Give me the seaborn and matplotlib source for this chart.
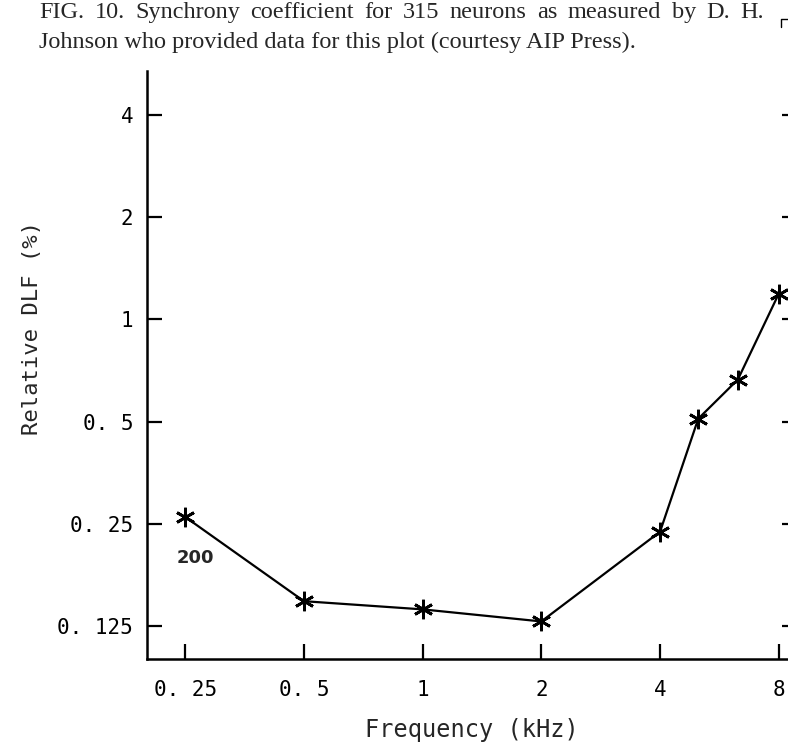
import numpy as np
import pandas as pd
import matplotlib
matplotlib.use("Agg")
import matplotlib.pyplot as plt
import seaborn as sns

# values
freq_khz = [0.25, 0.5, 1, 2, 4, 5, 6.3, 8]
rel_dlf = [0.262, 0.148, 0.140, 0.129, 0.237, 0.51, 0.665, 1.19]

xticks = [0.25, 0.5, 1, 2, 4, 8]
xtick_labels = ["0. 25", "0. 5", "1", "2", "4", "8"]
yticks = [0.125, 0.25, 0.5, 1, 2, 4]
ytick_labels = ["0. 125", "0. 25", "0. 5", "1", "2", "4"]

caption = ["FIG. 10. Synchrony coefficient for 315 neurons as measured by D. H.",
           "Johnson who provided data for this plot (courtesy AIP Press)."]

df = pd.DataFrame({"freq": freq_khz, "dlf": rel_dlf})

sns.set_theme(style="ticks")
plt.rcParams["font.family"] = ["DejaVu Sans Mono", "DejaVu Sans"]

W, H = 788, 747
fig = plt.figure(figsize=(W / 100, H / 100), dpi=100)
ax = fig.add_axes([147 / W, 1 - 659 / H, (797 - 147) / W, (659 - 71) / H])

sns.lineplot(data=df, x="freq", y="dlf", ax=ax, color="black", linewidth=1.6,
             marker=(6, 2, 0), markersize=14, markeredgewidth=2,
             markeredgecolor="black")

ax.set_xscale("log")
ax.set_yscale("log")
ax.set_xlim(0.2, 8.9)
ax.set_ylim(0.1, 5.39)
ax.minorticks_off()
ax.set_xticks(xticks)
ax.set_xticklabels(xtick_labels)
ax.set_yticks(yticks)
ax.set_yticklabels(ytick_labels)

ax.tick_params(axis="both", direction="in", length=11, width=1.6,
               labelsize=15, colors="black")
ax.tick_params(axis="y", right=True, pad=10)
ax.tick_params(axis="x", pad=15)
for s in ["left", "bottom", "right"]:
    ax.spines[s].set_linewidth(1.8)
    ax.spines[s].set_color("black")
ax.spines["top"].set_visible(False)

ax.set_xlabel("Frequency (kHz)", fontsize=17, labelpad=13)
ax.set_ylabel("Relative DLF (%)", fontsize=16, labelpad=11, y=0.563)

ax.text(0.265, 0.199, "200", fontsize=13, ha="center", va="center",
        fontweight="bold", family=["DejaVu Sans"])

# caption, first line justified like the printed page
renderer = fig.canvas.get_renderer()
x0, x1 = 39, 764
for i, line in enumerate(caption):
    y = 1 - (18 + 30 * i) / H
    if i == len(caption) - 1:
        fig.text(x0 / W, y, line, fontsize=17.5, family=["Liberation Serif"],
                 ha="left", va="baseline")
        continue
    words = line.split()
    texts = [fig.text(0, y, w, fontsize=17.5, family=["Liberation Serif"],
                      ha="left", va="baseline") for w in words]
    widths = [t.get_window_extent(renderer).width for t in texts]
    gap = (x1 - x0 - sum(widths)) / (len(words) - 1)
    x = x0
    for t, w in zip(texts, widths):
        t.set_x(x / W)
        x += w + gap

# small corner mark at top right of the scan
fig.add_artist(plt.Line2D([781 / W, 781 / W, 790 / W],
                          [1 - 27 / H, 1 - 19 / H, 1 - 19 / H],
                          transform=fig.transFigure, color="black", lw=1.0))

fig.savefig("out.png", dpi=100)
